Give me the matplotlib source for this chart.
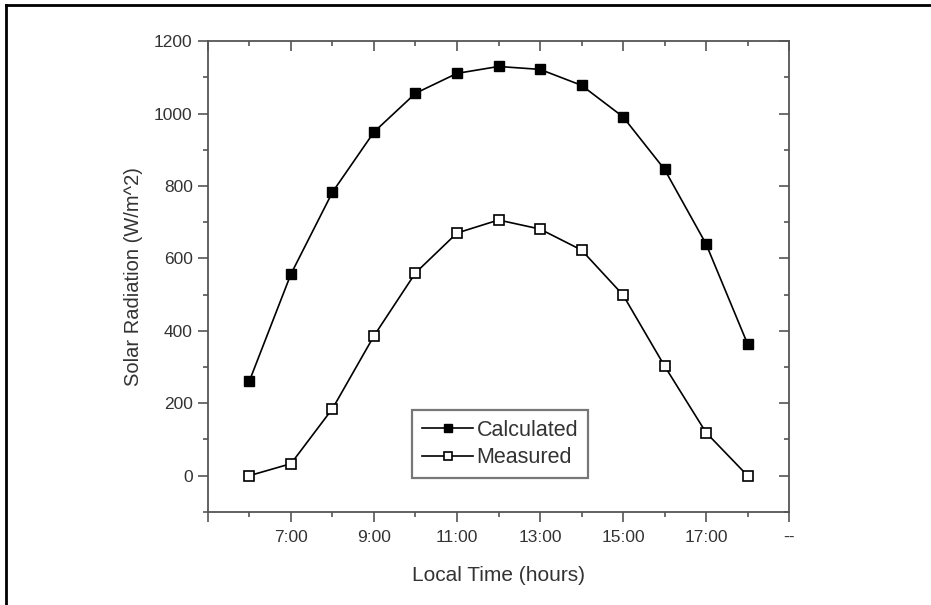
import matplotlib
matplotlib.use('Agg')
import matplotlib.pyplot as plt
from matplotlib.lines import Line2D
from matplotlib.ticker import MultipleLocator

plt.rcParams['font.family'] = ['Liberation Sans', 'DejaVu Sans']

hours = [6, 7, 8, 9, 10, 11, 12, 13, 14, 15, 16, 17, 18]
calculated = [262, 557, 783, 949, 1056, 1111, 1130, 1122, 1078, 991, 846, 640, 364]
measured = [0, 33, 185, 386, 560, 670, 706, 681, 623, 499, 303, 119, 0]

xtick_pos = [5, 7, 9, 11, 13, 15, 17, 19]
xtick_labels = ['', '7:00', '9:00', '11:00', '13:00', '15:00', '17:00', '--']

TXT = '#333333'
AX = '#555555'

fig = plt.figure(figsize=(9.31, 6.05), dpi=100)
ax = fig.add_axes([0.2234, 0.154, 0.6241, 0.778])

ax.plot(hours, calculated, '-s', color='black', lw=1.2, ms=7.5,
        mfc='black', mec='black', label='Calculated')
ax.plot(hours, measured, '-s', color='black', lw=1.2, ms=6.5,
        mfc='white', mec='black', mew=1.2, label='Measured')

ax.set_xlim(5, 19)
ax.set_ylim(-100, 1200)
ax.set_xticks(xtick_pos)
ax.set_xticklabels(xtick_labels)
ax.xaxis.set_minor_locator(MultipleLocator(1))
ax.yaxis.set_major_locator(MultipleLocator(200))
ax.yaxis.set_minor_locator(MultipleLocator(100))

for s in ax.spines.values():
    s.set_color(AX)
    s.set_linewidth(1.3)

ax.tick_params(which='both', colors=AX, labelcolor=TXT, labelsize=12.5, width=1.2)
ax.tick_params(axis='both', which='major', length=7, direction='out', pad=4)
ax.tick_params(axis='both', which='minor', length=3.5, direction='out')
ax.tick_params(axis='x', which='major', pad=6)

# inward ticks on top and right without labels
ax_t = ax.secondary_xaxis('top')
ax_t.set_xticks(xtick_pos)
ax_t.xaxis.set_minor_locator(MultipleLocator(1))
ax_t.tick_params(which='both', direction='in', labeltop=False, colors=AX, width=1.2)
ax_t.tick_params(which='major', length=7)
ax_t.tick_params(which='minor', length=3.5)
ax_t.spines['top'].set_visible(False)
ax_r = ax.secondary_yaxis('right')
ax_r.yaxis.set_major_locator(MultipleLocator(200))
ax_r.yaxis.set_minor_locator(MultipleLocator(100))
ax_r.tick_params(which='both', direction='in', labelright=False, colors=AX, width=1.2)
ax_r.tick_params(which='major', length=7)
ax_r.tick_params(which='minor', length=3.5)
ax_r.spines['right'].set_visible(False)

ax.set_xlabel('Local Time (hours)', fontsize=15, color=TXT, labelpad=15)
ax.set_ylabel('Solar Radiation (W/m^2)', fontsize=14.5, color=TXT, labelpad=8)

leg = ax.legend(loc='center', bbox_to_anchor=(0.5025, 0.144), fontsize=15.5,
                frameon=True, fancybox=False, handlelength=2.4, handletextpad=0.15,
                borderpad=0.45, labelspacing=0.3, borderaxespad=0, markerscale=0.85)
leg.get_frame().set_edgecolor(AX)
leg.get_frame().set_linewidth(1.6)
for t in leg.get_texts():
    t.set_color(TXT)

# partial outer frame (top and left edges)
fig.add_artist(Line2D([6 / 931, 6 / 931], [0, 1 - 5 / 605], transform=fig.transFigure,
                      color='black', lw=2))
fig.add_artist(Line2D([6 / 931, 1], [1 - 5 / 605, 1 - 5 / 605], transform=fig.transFigure,
                      color='black', lw=2))

fig.savefig('out.png', dpi=100)
